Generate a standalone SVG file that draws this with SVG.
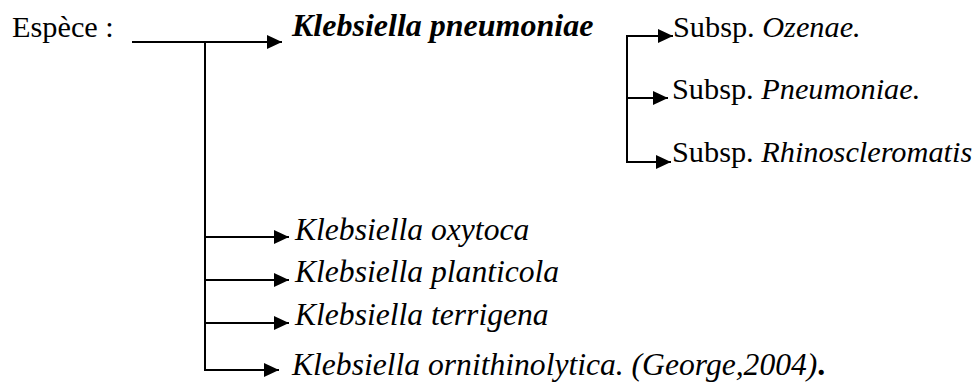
<svg xmlns="http://www.w3.org/2000/svg" width="979" height="383" viewBox="0 0 979 383">
  <style>
    text { font-family: "Liberation Serif", "Times New Roman", serif; fill: #000; }
    .reg { font-size: 30.3px; }
    .it { font-size: 31.6px; font-style: italic; }
    .bi { font-size: 32px; font-style: italic; font-weight: bold; }
    .ln { stroke: #000; stroke-width: 2; fill: none; }
  </style>
  <defs>
    <marker id="arr" markerUnits="userSpaceOnUse" markerWidth="16" markerHeight="15" refX="15" refY="7" orient="auto">
      <path d="M0,0 L15,7 L0,14 Z" fill="#000"/>
    </marker>
  </defs>

  <g id="label-espece">
    <text class="reg" x="12" y="37">Espèce :</text>
  </g>

  <g id="connectors">
    <line class="ln" x1="132" y1="42" x2="282" y2="42" marker-end="url(#arr)"/>
    <line class="ln" x1="205" y1="42" x2="205" y2="371"/>
    <line class="ln" x1="205" y1="237" x2="289" y2="237" marker-end="url(#arr)"/>
    <line class="ln" x1="205" y1="280" x2="289" y2="280" marker-end="url(#arr)"/>
    <line class="ln" x1="205" y1="323" x2="289" y2="323" marker-end="url(#arr)"/>
    <line class="ln" x1="204" y1="370" x2="279" y2="370" marker-end="url(#arr)"/>
    <line class="ln" x1="627" y1="35" x2="627" y2="163"/>
    <line class="ln" x1="626" y1="36" x2="673" y2="36" marker-end="url(#arr)"/>
    <line class="ln" x1="627" y1="98" x2="668" y2="98" marker-end="url(#arr)"/>
    <line class="ln" x1="626" y1="162" x2="671" y2="162" marker-end="url(#arr)"/>
  </g>

  <g id="node-pneumoniae">
    <text class="bi" x="292" y="36">Klebsiella pneumoniae</text>
  </g>
  <g id="node-ozenae">
    <text class="reg" x="673" y="37">Subsp. <tspan font-style="italic">Ozenae.</tspan></text>
  </g>
  <g id="node-subsp-pneumoniae">
    <text class="reg" x="672" y="99">Subsp. <tspan font-style="italic">Pneumoniae.</tspan></text>
  </g>
  <g id="node-rhinoscleromatis">
    <text class="reg" x="672" y="162">Subsp. <tspan font-style="italic">Rhinoscleromatis</tspan></text>
  </g>
  <g id="node-oxytoca">
    <text class="it" x="295" y="240">Klebsiella oxytoca</text>
  </g>
  <g id="node-planticola">
    <text class="it" x="295" y="282">Klebsiella planticola</text>
  </g>
  <g id="node-terrigena">
    <text class="it" x="295" y="325">Klebsiella terrigena</text>
  </g>
  <g id="node-ornithinolytica">
    <text class="it" x="292" y="375">Klebsiella ornithinolytica. (George,2004)<tspan font-style="normal" font-weight="bold">.</tspan></text>
  </g>
</svg>
